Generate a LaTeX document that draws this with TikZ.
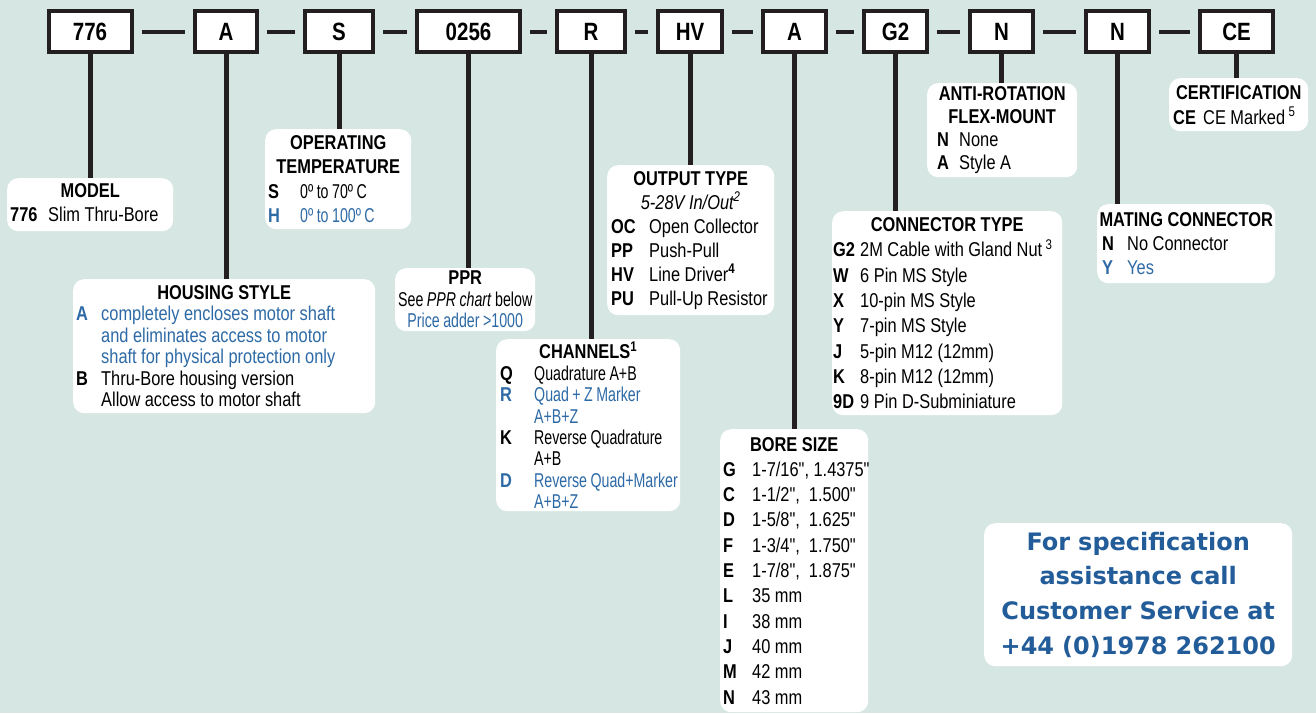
\documentclass[tikz,border=0pt]{standalone}
\usepackage{fontspec}
\setmainfont{Liberation Sans}[FakeStretch=0.82,Ligatures=TeXOff]
\newfontfamily\condfont{Liberation Sans}[FakeStretch=0.71,Ligatures=TeXOff]
\newfontfamily\callfont{DejaVu Sans}
\usepackage{xcolor}
\usepackage{tikz}
\setlength\parindent{0pt}
\definecolor{paper}{HTML}{D6E7E3}
\definecolor{ink}{HTML}{231F20}
\definecolor{optblue}{HTML}{2D6AA6}
\definecolor{callblue}{HTML}{225C99}
\newlength\optin
\newlength\optw
\newcommand\gap{\spaceskip=4.5pt plus 2pt minus 1pt\relax}
\newcommand\tight{\condfont\spaceskip=3.5pt plus 1pt minus 1pt\relax}
\newcommand\opthead[1]{{\centering\bfseries\gap #1\par}}
\newcommand\optrow[2]{\hspace*{\optin}\makebox[\optw][l]{\bfseries #1}\mbox{\gap #2}\par}
\newcommand\blueopt[2]{\optrow{\color{optblue}#1}{\color{optblue}#2}}
\newcommand\optfoot[1]{\par\nointerlineskip\hbox{\rule{0pt}{#1}}}
\tikzstyle{codebox}=[draw=ink,line width=4pt,fill=white,minimum height=41pt,inner sep=0pt,font=\bfseries\fontsize{25}{25}\selectfont]
\tikzstyle{panel}=[fill=white,rounded corners=11pt,anchor=north west,inner sep=0pt,align=left]
\tikzstyle{stem}=[draw=ink,line width=5pt]
\tikzstyle{link}=[draw=ink,line width=4pt,shorten <=8pt,shorten >=8pt]
\tikzset{cols/.style 2 args={execute at begin node={\setlength\optin{#1}\setlength\optw{#2}}}}

\begin{document}
\begin{tikzpicture}[x=1pt,y=-1pt]
  \useasboundingbox (0,0) rectangle (1316,713);
  \fill [paper] (0,0) rectangle (1316,713);
  \node at (  90,31.5) [codebox,minimum width=83pt] (b776) {776};
  \node at ( 226,31.5) [codebox,minimum width=62pt] (bA) {A};
  \node at ( 339,31.5) [codebox,minimum width=68pt] (bS) {S};
  \node at (468.5,31.5) [codebox,minimum width=103pt] (b0256) {0256};
  \node at ( 591,31.5) [codebox,minimum width=68pt] (bR) {R};
  \node at ( 690,31.5) [codebox,minimum width=64pt] (bHV) {HV};
  \node at (794.5,31.5) [codebox,minimum width=63pt] (bA2) {A};
  \node at (895.5,31.5) [codebox,minimum width=63pt] (bG2) {G2};
  \node at (1001.5,31.5) [codebox,minimum width=63pt] (bN) {N};
  \node at (1117.5,31.5) [codebox,minimum width=63pt] (bN2) {N};
  \node at (1236.5,31.5) [codebox,minimum width=73pt] (bCE) {CE};
  \node at (7,178) [panel,text width=166pt,minimum height=53pt,cols={3pt}{38pt},font=\fontsize{20}{24}\selectfont] (model)
    {\opthead{MODEL}\optrow{776}{Slim Thru-Bore}\optfoot{5pt}};
  \node at (265,129) [panel,text width=146pt,minimum height=100pt,cols={3pt}{32pt},font=\fontsize{20}{24.5}\selectfont] (optemp)
    {\opthead{OPERATING\\TEMPERATURE}\optrow{S}{\tight 0º to 70º C}\blueopt{H}{\tight 0º to 100º C}};
  \node at (73,279) [panel,text width=302pt,minimum height=134pt,cols={3pt}{25pt},font=\fontsize{20}{21.4}\selectfont] (housing)
    {\opthead{HOUSING STYLE}
     \blueopt{A}{completely encloses motor shaft}
     \blueopt{}{and eliminates access to motor}
     \blueopt{}{shaft for physical protection only}
     \optrow{B}{Thru-Bore housing version}
     \optrow{}{Allow access to motor shaft}};
  \node at (395,268) [panel,text width=140pt,minimum height=63pt,align=center,font=\fontsize{20}{21.5}\selectfont] (ppr)
    {\textbf{PPR}\\\mbox{\tight See \textit{PPR chart} below}\\\mbox{\tight\color{optblue}Price adder >1000}};
  \node at (496,339) [panel,text width=184pt,minimum height=172pt,cols={4pt}{34pt},font=\fontsize{20}{21.4}\selectfont] (channels)
    {\opthead{CHANNELS\textsuperscript{1}}
     \optrow{Q}{\tight Quadrature A+B}
     \blueopt{R}{\tight Quad + Z Marker}
     \blueopt{}{\tight A+B+Z}
     \optrow{K}{\tight Reverse Quadrature}
     \optrow{}{\tight A+B}
     \blueopt{D}{\tight Reverse Quad+Marker}
     \blueopt{}{\tight A+B+Z}};
  \node at (607,165) [panel,text width=167pt,minimum height=150pt,cols={4pt}{38pt},font=\fontsize{20}{24}\selectfont] (output)
    {\opthead{OUTPUT TYPE}
     {\centering\itshape\gap 5-28V In/Out\textsuperscript{2}\par}
     \optrow{OC}{Open Collector}
     \optrow{PP}{Push-Pull}
     \optrow{HV}{Line Driver\textsuperscript{\bfseries 4}}
     \optrow{PU}{Pull-Up Resistor}};
  \node at (720,429) [panel,text width=148pt,minimum height=283pt,cols={3pt}{29pt},font=\fontsize{20}{25.3}\selectfont] (bore)
    {\opthead{BORE SIZE}
     \optrow{G}{1-7/16", 1.4375"}
     \optrow{C}{1-1/2",\ \ 1.500"}
     \optrow{D}{1-5/8",\ \ 1.625"}
     \optrow{F}{1-3/4",\ \ 1.750"}
     \optrow{E}{1-7/8",\ \ 1.875"}
     \optrow{L}{35 mm}
     \optrow{I}{38 mm}
     \optrow{J}{40 mm}
     \optrow{M}{42 mm}
     \optrow{N}{43 mm}};
  \node at (832,211) [panel,text width=230pt,minimum height=204pt,cols={1pt}{27pt},font=\fontsize{20}{25.3}\selectfont] (connector)
    {\opthead{CONNECTOR TYPE}
     \optrow{G2}{2M Cable with Gland Nut\,\textsuperscript{3}}
     \optrow{W}{6 Pin MS Style}
     \optrow{X}{10-pin MS Style}
     \optrow{Y}{7-pin MS Style}
     \optrow{J}{5-pin M12 (12mm)}
     \optrow{K}{8-pin M12 (12mm)}
     \optrow{9D}{9 Pin D-Subminiature}};
  \node at (927,83) [panel,text width=150pt,minimum height=94pt,cols={10pt}{22pt},font=\fontsize{20}{23}\selectfont] (antirot)
    {\opthead{ANTI-ROTATION\\FLEX-MOUNT}\optrow{N}{None}\optrow{A}{Style A}};
  \node at (1097,204) [panel,text width=178pt,minimum height=79pt,cols={5pt}{25pt},font=\fontsize{20}{24}\selectfont] (mating)
    {\opthead{MATING CONNECTOR}\optrow{N}{No Connector}\blueopt{Y}{Yes}};
  \node at (1169,78) [panel,text width=139pt,minimum height=53pt,cols={4pt}{30pt},font=\fontsize{20}{25}\selectfont] (cert)
    {\opthead{CERTIFICATION}\optrow{CE}{CE Marked\,\textsuperscript{5}}};
  \node at (984,523) [panel,text width=308pt,minimum height=143pt,align=center,text=callblue,font=\callfont\bfseries\fontsize{24}{34.7}\selectfont] (call)
    {For specification\\assistance call\\Customer Service at\\+44 (0)1978 262100};
  \draw [link] (b776) -- (bA);
  \draw [link] (bA) -- (bS);
  \draw [link] (bS) -- (b0256);
  \draw [link] (b0256) -- (bR);
  \draw [link] (bR) -- (bHV);
  \draw [link] (bHV) -- (bA2);
  \draw [link] (bA2) -- (bG2);
  \draw [link] (bG2) -- (bN);
  \draw [link] (bN) -- (bN2);
  \draw [link] (bN2) -- (bCE);
  \draw [stem] (b776.south) -- (b776.south |- model.north);
  \draw [stem] (bA.south) -- (bA.south |- housing.north);
  \draw [stem] (bS.south) -- (bS.south |- optemp.north);
  \draw [stem] (b0256.south) -- (b0256.south |- ppr.north);
  \draw [stem] (bR.south) -- (bR.south |- channels.north);
  \draw [stem] (bHV.south) -- (bHV.south |- output.north);
  \draw [stem] (bA2.south) -- (bA2.south |- bore.north);
  \draw [stem] (bG2.south) -- (bG2.south |- connector.north);
  \draw [stem] (bN.south) -- (bN.south |- antirot.north);
  \draw [stem] (bN2.south) -- (bN2.south |- mating.north);
  \draw [stem] (bCE.south) -- (bCE.south |- cert.north);
\end{tikzpicture}
\end{document}
